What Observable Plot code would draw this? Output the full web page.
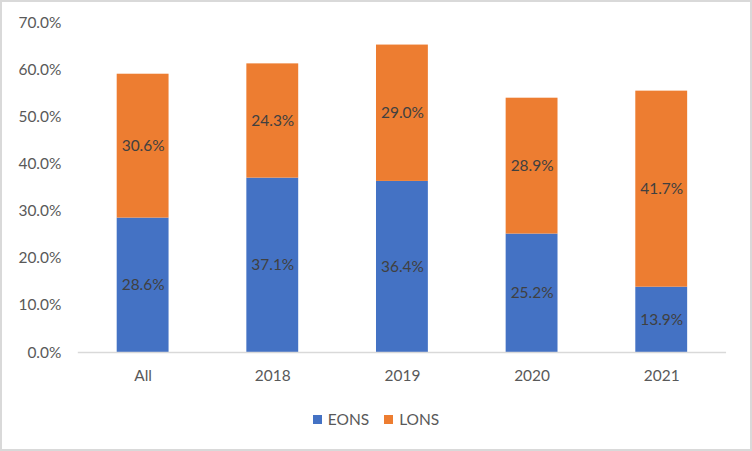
<!DOCTYPE html>
<html>
<head>
<meta charset="utf-8">
<script src="https://cdn.jsdelivr.net/npm/d3@7"></script>
<script src="https://cdn.jsdelivr.net/npm/@observablehq/plot@0.6"></script>
<style>
  html, body { margin: 0; padding: 0; background: #fff; }
  #frame {
    position: absolute; left: 0; top: 0; width: 752px; height: 451px;
    box-sizing: border-box; border: 2px solid #d9d9d9; background: #fff;
    font-family: Lato, "Open Sans", sans-serif;
  }
  #chart { position: absolute; left: -2px; top: -2px; }
  #legend {
    position: absolute; left: -2px; top: 408px; width: 752px;
    display: flex; justify-content: center; gap: 15px;
    font-size: 15.5px; color: #595959;
  }
  #legend .item { display: flex; align-items: center; gap: 6px; }
  #legend .sw { width: 9px; height: 9px; display: inline-block; }
</style>
</head>
<body>
<div id="frame">
  <div id="chart"></div>
  <div id="legend"></div>
</div>
<script>
// Share of respondents by group, split into EONS and LONS (percent)
const categories = ["All", "2018", "2019", "2020", "2021"];
const seriesNames = ["EONS", "LONS"];
const eons = [28.6, 37.1, 36.4, 25.2, 13.9];
const lons = [30.6, 24.3, 29.0, 28.9, 41.7];
const yTicks = [0, 10, 20, 30, 40, 50, 60, 70];
const colors = ["#4472C4", "#ED7D31"];

const rows = [];
categories.forEach((c, i) => {
  rows.push({cat: c, series: "EONS", value: eons[i], mid: eons[i] / 2});
  rows.push({cat: c, series: "LONS", value: lons[i], mid: eons[i] + lons[i] / 2});
});

const chart = Plot.plot({
  width: 752,
  height: 395,
  marginLeft: 78,
  marginRight: 24,
  marginTop: 23,
  marginBottom: 42,
  style: {fontFamily: "Lato, 'Open Sans', sans-serif", fontSize: "15.5px", color: "#595959", background: "transparent"},
  x: {domain: categories, paddingInner: 0.6, paddingOuter: 0.3, label: null},
  y: {domain: [0, 70], label: null},
  color: {domain: seriesNames, range: colors},
  marks: [
    Plot.barY(rows, Plot.stackY({x: "cat", y: "value", fill: "series", order: seriesNames})),
    Plot.ruleY([0], {stroke: "#d9d9d9", strokeWidth: 1.5}),
    Plot.text(rows, {x: "cat", y: "mid", text: d => d.value.toFixed(1) + "%", fill: "#404040", fontSize: 15.5}),
    Plot.axisY({ticks: yTicks, tickSize: 0, tickPadding: 17, tickFormat: d => d.toFixed(1) + "%", fill: "#595959"}),
    Plot.axisX({tickSize: 0, tickPadding: 18, fill: "#595959"})
  ]
});
document.getElementById("chart").appendChild(chart);

const legend = document.getElementById("legend");
seriesNames.forEach((name, i) => {
  const item = document.createElement("span");
  item.className = "item";
  const sw = document.createElement("span");
  sw.className = "sw";
  sw.style.background = colors[i];
  item.appendChild(sw);
  item.appendChild(document.createTextNode(name));
  legend.appendChild(item);
});
</script>
</body>
</html>
